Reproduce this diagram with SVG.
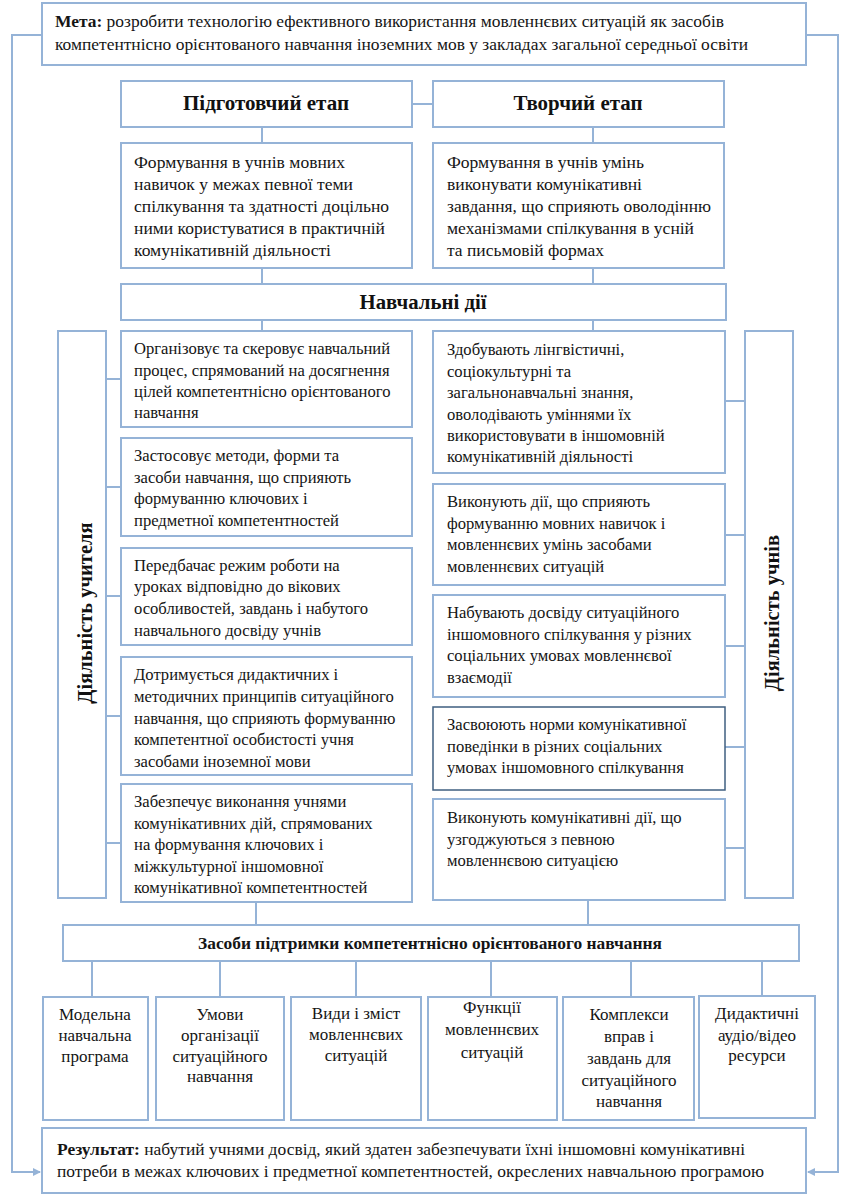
<svg xmlns="http://www.w3.org/2000/svg" width="847" height="1203" viewBox="0 0 847 1203" font-family="'Liberation Serif', 'Times New Roman', serif">
<style>
.box{fill:#fff;stroke:#95b3d7;stroke-width:2}
.dark{fill:#fff;stroke:#3f5f80;stroke-width:1.5}
.ln{stroke:#95b3d7;stroke-width:2;fill:none}
.t{font-size:16.6px;fill:#151515}
.c{font-size:17px;fill:#151515}
.cc{font-size:17px;fill:#151515;text-anchor:middle}
.h{font-size:20px;font-weight:bold;fill:#111;text-anchor:middle}
.v{font-size:20.5px}
.b{font-weight:bold}
</style>
<defs>
<marker id="ar" markerWidth="8" markerHeight="8" refX="7" refY="4" orient="auto" markerUnits="userSpaceOnUse">
<path d="M0,0 L8,4 L0,8 z" fill="#95b3d7"/>
</marker>
</defs>
<rect width="847" height="1203" fill="#fff"/>
<g id="connectors">
<path class="ln" d="M42,35 H12 V1172 H40" marker-end="url(#ar)"/>
<path class="ln" d="M806,35 H838 V1172 H808" marker-end="url(#ar)"/>
<path class="ln" d="M412,104 H433"/>
<path class="ln" d="M262,127 V143 M593,127 V143"/>
<path class="ln" d="M262,268 V284 M593,268 V284"/>
<path class="ln" d="M262,320 V331 M593,320 V331"/>
<path class="ln" d="M106,379 H121 M106,487 H121 M106,596 H121 M106,716 H121 M106,843 H121"/>
<path class="ln" d="M725,401 H745 M725,535 H745 M725,646 H745 M725,747 H745 M725,848 H745"/>
<path class="ln" d="M256,902 V925 M588,900 V925"/>
<path class="ln" d="M92,961 V997 M220,961 V997 M356,961 V997 M491,961 V997 M631,961 V997 M762,961 V996"/>
</g>
<g id="meta">
<rect class="box" x="42" y="3" width="764" height="62"/>
<text class="c" x="55" y="27" textLength="669" lengthAdjust="spacingAndGlyphs"><tspan class="b">Мета:</tspan> розробити технологію ефективного використання мовленнєвих ситуацій як засобів</text>
<text class="c" x="55" y="50" textLength="693" lengthAdjust="spacingAndGlyphs">компетентнісно орієнтованого навчання іноземних мов у закладах загальної середньої освіти</text>
</g>
<g id="stage1">
<rect class="box" x="121" y="81" width="291" height="46"/>
<text class="h" x="266" y="110" textLength="166" lengthAdjust="spacingAndGlyphs">Підготовчий етап</text>
</g>
<g id="stage2">
<rect class="box" x="433" y="81" width="291" height="46"/>
<text class="h" x="578" y="110" textLength="129" lengthAdjust="spacingAndGlyphs">Творчий етап</text>
</g>
<g id="desc1">
<rect class="box" x="121" y="143" width="291" height="125"/>
<text class="c" x="134" y="168" textLength="211" lengthAdjust="spacingAndGlyphs">Формування в учнів мовних</text>
<text class="c" x="134" y="190" textLength="219" lengthAdjust="spacingAndGlyphs">навичок у межах певної теми</text>
<text class="c" x="134" y="212" textLength="255" lengthAdjust="spacingAndGlyphs">спілкування та здатності доцільно</text>
<text class="c" x="134" y="234" textLength="251" lengthAdjust="spacingAndGlyphs">ними користуватися в практичній</text>
<text class="c" x="134" y="256" textLength="197" lengthAdjust="spacingAndGlyphs">комунікативній діяльності</text>
</g>
<g id="desc2">
<rect class="box" x="433" y="143" width="291" height="125"/>
<text class="c" x="447" y="168" textLength="197" lengthAdjust="spacingAndGlyphs">Формування в учнів умінь</text>
<text class="c" x="447" y="190" textLength="195" lengthAdjust="spacingAndGlyphs">виконувати комунікативні</text>
<text class="c" x="447" y="212" textLength="264" lengthAdjust="spacingAndGlyphs">завдання, що сприяють оволодінню</text>
<text class="c" x="447" y="234" textLength="247" lengthAdjust="spacingAndGlyphs">механізмами спілкування в усній</text>
<text class="c" x="447" y="256" textLength="157" lengthAdjust="spacingAndGlyphs">та письмовій формах</text>
</g>
<g id="actions">
<rect class="box" x="121" y="284" width="605" height="36"/>
<text class="h" x="423" y="309" textLength="127" lengthAdjust="spacingAndGlyphs">Навчальні дії</text>
</g>
<g id="teacher">
<rect class="box" x="58" y="331" width="48" height="567"/>
<text class="h v" transform="translate(92,613) rotate(-90)">Діяльність учителя</text>
</g>
<g id="t1">
<rect class="box" x="121" y="331" width="291" height="96"/>
<text class="t" x="134" y="354">Організовує та скеровує навчальний</text>
<text class="t" x="134" y="376">процес, спрямований на досягнення</text>
<text class="t" x="134" y="397">цілей компетентнісно орієнтованого</text>
<text class="t" x="134" y="418">навчання</text>
</g>
<g id="t2">
<rect class="box" x="121" y="438" width="291" height="98"/>
<text class="t" x="134" y="461">Застосовує методи, форми та</text>
<text class="t" x="134" y="483">засоби навчання, що сприяють</text>
<text class="t" x="134" y="504">формуванню ключових і</text>
<text class="t" x="134" y="526">предметної компетентностей</text>
</g>
<g id="t3">
<rect class="box" x="121" y="548" width="291" height="97"/>
<text class="t" x="134" y="571">Передбачає режим роботи на</text>
<text class="t" x="134" y="592">уроках відповідно до вікових</text>
<text class="t" x="134" y="614">особливостей, завдань і набутого</text>
<text class="t" x="134" y="636">навчального досвіду учнів</text>
</g>
<g id="t4">
<rect class="box" x="121" y="657" width="291" height="118"/>
<text class="t" x="134" y="680">Дотримується дидактичних і</text>
<text class="t" x="134" y="702">методичних принципів ситуаційного</text>
<text class="t" x="134" y="724">навчання, що сприяють формуванню</text>
<text class="t" x="134" y="745">компетентної особистості учня</text>
<text class="t" x="134" y="767">засобами іноземної мови</text>
</g>
<g id="t5">
<rect class="box" x="121" y="784" width="291" height="118"/>
<text class="t" x="134" y="807">Забезпечує виконання учнями</text>
<text class="t" x="134" y="829">комунікативних дій, спрямованих</text>
<text class="t" x="134" y="850">на формування ключових і</text>
<text class="t" x="134" y="872">міжкультурної іншомовної</text>
<text class="t" x="134" y="893">комунікативної компетентностей</text>
</g>
<g id="students">
<rect class="box" x="745" y="331" width="48" height="567"/>
<text class="h v" transform="translate(779,613) rotate(-90)">Діяльність учнів</text>
</g>
<g id="s1">
<rect class="box" x="433" y="331" width="292" height="142"/>
<text class="t" x="447" y="355">Здобувають лінгвістичні,</text>
<text class="t" x="447" y="377">соціокультурні та</text>
<text class="t" x="447" y="398">загальнонавчальні знання,</text>
<text class="t" x="447" y="420">оволодівають уміннями їх</text>
<text class="t" x="447" y="441">використовувати в іншомовній</text>
<text class="t" x="447" y="462">комунікативній діяльності</text>
</g>
<g id="s2">
<rect class="box" x="433" y="484" width="292" height="101"/>
<text class="t" x="447" y="507">Виконують дії, що сприяють</text>
<text class="t" x="447" y="529">формуванню мовних навичок і</text>
<text class="t" x="447" y="550">мовленнєвих умінь засобами</text>
<text class="t" x="447" y="572">мовленнєвих ситуацій</text>
</g>
<g id="s3">
<rect class="box" x="433" y="595" width="292" height="102"/>
<text class="t" x="447" y="618">Набувають досвіду ситуаційного</text>
<text class="t" x="447" y="640">іншомовного спілкування у різних</text>
<text class="t" x="447" y="661">соціальних умовах мовленнєвої</text>
<text class="t" x="447" y="683">взаємодії</text>
</g>
<g id="s4">
<rect class="dark" x="433" y="707" width="292" height="83"/>
<text class="t" x="447" y="730">Засвоюють норми комунікативної</text>
<text class="t" x="447" y="752">поведінки в різних соціальних</text>
<text class="t" x="447" y="773">умовах іншомовного спілкування</text>
</g>
<g id="s5">
<rect class="box" x="433" y="799" width="292" height="101"/>
<text class="t" x="447" y="823">Виконують комунікативні дії, що</text>
<text class="t" x="447" y="845">узгоджуються з певною</text>
<text class="t" x="447" y="866">мовленнєвою ситуацією</text>
</g>
<g id="means">
<rect class="box" x="63" y="925" width="736" height="36"/>
<text class="c b" x="198" y="949" textLength="464" lengthAdjust="spacingAndGlyphs" font-size="16">Засоби підтримки компетентнісно орієнтованого навчання</text>
</g>
<g id="m1">
<rect class="box" x="43" y="997" width="105" height="123"/>
<text class="cc" x="95" y="1020">Модельна</text>
<text class="cc" x="95" y="1041">навчальна</text>
<text class="cc" x="95" y="1062">програма</text>
</g>
<g id="m2">
<rect class="box" x="156" y="997" width="128" height="123"/>
<text class="cc" x="220" y="1020">Умови</text>
<text class="cc" x="220" y="1041">організації</text>
<text class="cc" x="220" y="1062">ситуаційного</text>
<text class="cc" x="220" y="1082">навчання</text>
</g>
<g id="m3">
<rect class="box" x="291" y="997" width="130" height="123"/>
<text class="cc" x="356" y="1019">Види і зміст</text>
<text class="cc" x="356" y="1040">мовленнєвих</text>
<text class="cc" x="356" y="1061">ситуацій</text>
</g>
<g id="m4">
<rect class="box" x="428" y="997" width="129" height="123"/>
<text class="cc" x="492" y="1013">Функції</text>
<text class="cc" x="492" y="1035">мовленнєвих</text>
<text class="cc" x="492" y="1058">ситуацій</text>
</g>
<g id="m5">
<rect class="box" x="563" y="997" width="131" height="123"/>
<text class="cc" x="629" y="1020">Комплекси</text>
<text class="cc" x="629" y="1042">вправ і</text>
<text class="cc" x="629" y="1064">завдань для</text>
<text class="cc" x="629" y="1086">ситуаційного</text>
<text class="cc" x="629" y="1107">навчання</text>
</g>
<g id="m6">
<rect class="box" x="699" y="996" width="116" height="122"/>
<text class="cc" x="757" y="1019">Дидактичні</text>
<text class="cc" x="757" y="1041">аудіо/відео</text>
<text class="cc" x="757" y="1061">ресурси</text>
</g>
<g id="result">
<rect class="box" x="42" y="1128" width="764" height="65"/>
<text class="c" x="57" y="1155" textLength="688" lengthAdjust="spacingAndGlyphs"><tspan class="b">Результат:</tspan> набутий учнями досвід, який здатен забезпечувати їхні іншомовні комунікативні</text>
<text class="c" x="57" y="1177" textLength="707" lengthAdjust="spacingAndGlyphs">потреби в межах ключових і предметної компетентностей, окреслених навчальною програмою</text>
</g>
</svg>
